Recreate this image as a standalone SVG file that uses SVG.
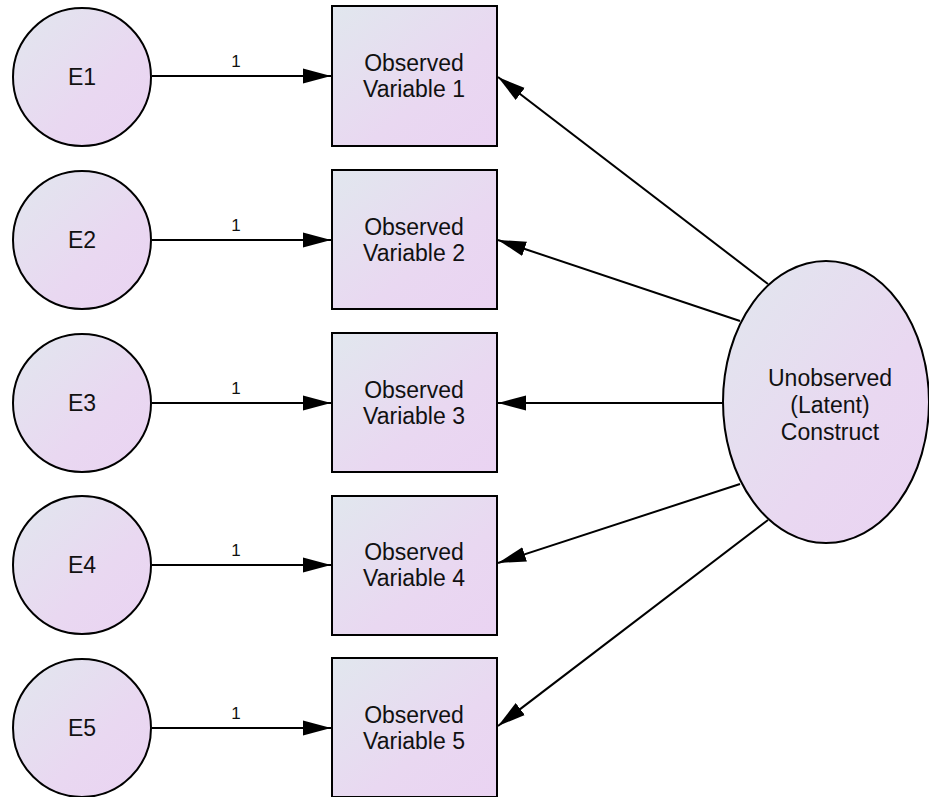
<svg xmlns="http://www.w3.org/2000/svg" width="929" height="797" viewBox="0 0 929 797">
<defs>
<linearGradient id="g" x1="0" y1="0" x2="1" y2="1">
<stop offset="0" stop-color="#e1e7ee"/>
<stop offset="0.6" stop-color="#e9d8f1"/>
<stop offset="1" stop-color="#ead3f2"/>
</linearGradient>
<marker id="ah" markerUnits="userSpaceOnUse" markerWidth="30" markerHeight="16" refX="28" refY="8" orient="auto">
<path d="M0,0.5 L28,8 L0,15.5 Z" fill="#000"/>
</marker>
<style>
.n{fill:url(#g);stroke:#000;stroke-width:2}
.t{font-family:"Liberation Sans",Arial,sans-serif;font-size:23px;fill:#111;text-anchor:middle}
.l{font-family:"Liberation Sans",Arial,sans-serif;font-size:17px;fill:#111;text-anchor:middle}
.c{stroke:#000;stroke-width:2;fill:none;marker-end:url(#ah)}
</style>
</defs>
<rect width="929" height="797" fill="#fff"/>
<g id="connectors">
<line class="c" x1="152" y1="76" x2="331" y2="76"/>
<line class="c" x1="152" y1="240" x2="331" y2="240"/>
<line class="c" x1="152" y1="403" x2="331" y2="403"/>
<line class="c" x1="152" y1="565" x2="331" y2="565"/>
<line class="c" x1="152" y1="728" x2="331" y2="728"/>
<line class="c" x1="768" y1="284" x2="498" y2="77"/>
<line class="c" x1="740" y1="321" x2="498" y2="240"/>
<line class="c" x1="723" y1="403" x2="498" y2="403"/>
<line class="c" x1="740" y1="484" x2="498" y2="563"/>
<line class="c" x1="768" y1="520" x2="498" y2="726"/>
<text class="l" x="236" y="67">1</text>
<text class="l" x="236" y="231">1</text>
<text class="l" x="236" y="394">1</text>
<text class="l" x="236" y="556">1</text>
<text class="l" x="236" y="719">1</text>
</g>
<g id="E1"><circle class="n" cx="82" cy="77" r="69"/><text class="t" x="82" y="85">E1</text></g>
<g id="E2"><circle class="n" cx="82" cy="240" r="69"/><text class="t" x="82" y="248">E2</text></g>
<g id="E3"><circle class="n" cx="82" cy="403" r="69"/><text class="t" x="82" y="411">E3</text></g>
<g id="E4"><circle class="n" cx="82" cy="565" r="69"/><text class="t" x="82" y="573">E4</text></g>
<g id="E5"><circle class="n" cx="82" cy="728" r="69"/><text class="t" x="82" y="736">E5</text></g>
<g id="OV1"><rect class="n" x="332" y="6" width="165" height="140"/><text class="t" x="414" y="71">Observed</text><text class="t" x="414" y="97">Variable 1</text></g>
<g id="OV2"><rect class="n" x="332" y="170" width="165" height="139"/><text class="t" x="414" y="235">Observed</text><text class="t" x="414" y="261">Variable 2</text></g>
<g id="OV3"><rect class="n" x="332" y="333" width="165" height="139"/><text class="t" x="414" y="398">Observed</text><text class="t" x="414" y="424">Variable 3</text></g>
<g id="OV4"><rect class="n" x="332" y="496" width="165" height="139"/><text class="t" x="414" y="560">Observed</text><text class="t" x="414" y="586">Variable 4</text></g>
<g id="OV5"><rect class="n" x="332" y="658" width="165" height="139"/><text class="t" x="414" y="723">Observed</text><text class="t" x="414" y="749">Variable 5</text></g>
<g id="Latent"><ellipse class="n" cx="826" cy="402" rx="103" ry="141"/><text class="t" x="830" y="386">Unobserved</text><text class="t" x="830" y="413">(Latent)</text><text class="t" x="830" y="440">Construct</text></g>
</svg>
